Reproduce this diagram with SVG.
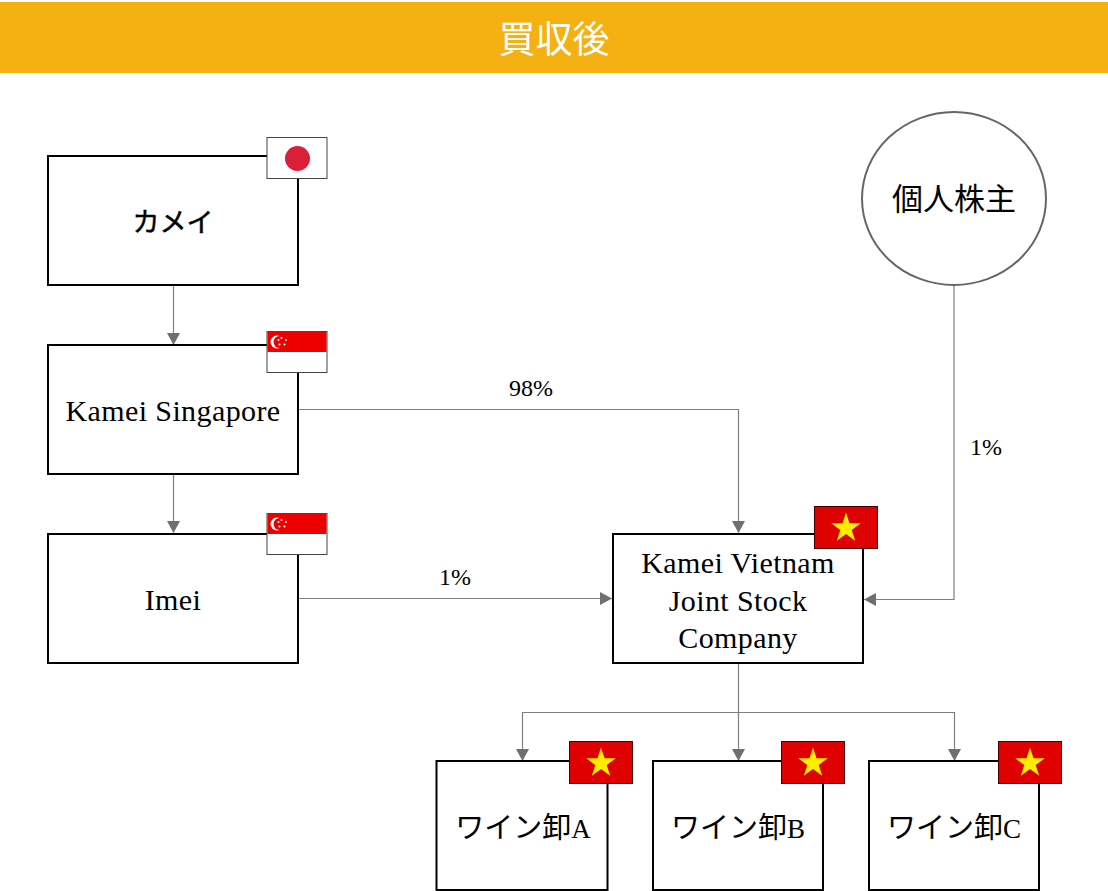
<svg xmlns="http://www.w3.org/2000/svg" xmlns:xlink="http://www.w3.org/1999/xlink" width="1108" height="891" viewBox="0 0 1108 891">
<style>
.b{fill:#fff;stroke:#000;stroke-width:2}
.c{fill:none;stroke:#7f7f7f;stroke-width:1.2}
.s{font-family:"Liberation Serif","Noto Sans CJK JP",serif;fill:#000;text-anchor:middle}
.j{font-family:"Noto Sans CJK JP","Liberation Serif",sans-serif;fill:#000;text-anchor:middle}
.t{font-size:30px;letter-spacing:.4px}
.p{font-size:24px}
.w{font-size:29px}
.w tspan{font-family:"Liberation Serif",serif;font-size:27px}
</style>
<defs>
<marker id="a" markerUnits="userSpaceOnUse" markerWidth="13" markerHeight="13" refX="12" refY="6.500" orient="auto"><path d="M0,0L12,6.500L0,13Z" fill="#6f6f6f"/></marker>
<g id="jp"><rect width="60" height="41" fill="#fff" stroke="#444"/><circle cx="30.500" cy="21" r="12.500" fill="#dc1f38"/></g>
<g id="sg"><rect width="60" height="41" fill="#fff" stroke="#444"/><rect x=".5" y=".5" width="59" height="20" fill="#ee0000"/><circle cx="10" cy="10.500" r="6.500" fill="#fff"/><circle cx="12.500" cy="10.500" r="6" fill="#ee0000"/><g fill="#fff"><circle cx="14.500" cy="6.500" r="1"/><circle cx="19" cy="8.500" r="1"/><circle cx="17.500" cy="13" r="1"/><circle cx="12.500" cy="13" r="1"/><circle cx="11.500" cy="8.500" r="1"/></g></g>
<g id="vn"><rect width="63" height="42" fill="#df0000" stroke="#400"/><polygon points="31.500,6 35,16.800 46.300,16.800 37.200,23.500 40.700,34.300 31.500,27.600 22.300,34.300 25.800,23.500 16.700,16.800 28,16.800" fill="#ffed00"/></g>
</defs>
<rect id="banner" x="0" y="2" width="1108" height="71" fill="#f4b111"/>
<text x="554" y="53" class="j" style="fill:#fff;font-size:37px">買収後</text>
<g id="connectors">
<path class="c" marker-end="url(#a)" d="M173.500,285V345"/>
<path class="c" marker-end="url(#a)" d="M173.500,474V533"/>
<path class="c" marker-end="url(#a)" d="M299,409.500H738.500V533"/>
<path class="c" marker-end="url(#a)" d="M299,598.500H612"/>
<path class="c" marker-end="url(#a)" d="M954,285V599.500H864"/>
<path class="c" marker-end="url(#a)" d="M738.500,663V761"/>
<path class="c" marker-end="url(#a)" d="M738.500,712.500H522.500V761"/>
<path class="c" marker-end="url(#a)" d="M738.500,712.500H954.500V761"/>
<text x="531" y="396" class="s p">98%</text>
<text x="986" y="455" class="s p">1%</text>
<text x="455" y="585" class="s p">1%</text>
</g>
<g id="n-kamei"><rect class="b" x="48" y="156" width="250" height="129"/><text x="173" y="232" class="j" style="font-size:27px;stroke:#000;stroke-width:.5">カメイ</text><use xlink:href="#jp" x="267" y="137.500"/></g>
<g id="n-singapore"><rect class="b" x="48" y="345" width="250" height="129"/><text x="173" y="421" class="s t">Kamei Singapore</text><use xlink:href="#sg" x="267" y="331.500"/></g>
<g id="n-imei"><rect class="b" x="48" y="534" width="250" height="129"/><text x="173" y="610" class="s t">Imei</text><use xlink:href="#sg" x="267" y="513.500"/></g>
<g id="n-vietnam"><rect class="b" x="613" y="534" width="250" height="129"/><text x="738" y="573" class="s t">Kamei Vietnam</text><text x="738" y="611" class="s t">Joint Stock</text><text x="738" y="648" class="s t">Company</text><use xlink:href="#vn" x="814.500" y="506.500"/></g>
<g id="n-shareholders"><ellipse cx="954" cy="198.500" rx="92" ry="86.500" fill="#fff" stroke="#666" stroke-width="2"/><text x="954" y="210" class="j" style="font-size:31px">個人株主</text></g>
<g id="n-a"><rect class="b" x="436.500" y="761" width="171" height="129"/><text x="523" y="838" class="j w">ワイン卸<tspan>A</tspan></text><use xlink:href="#vn" x="569.500" y="741.500"/></g>
<g id="n-b"><rect class="b" x="653" y="761" width="170" height="129"/><text x="738" y="838" class="j w">ワイン卸<tspan>B</tspan></text><use xlink:href="#vn" x="781.500" y="741.500"/></g>
<g id="n-c"><rect class="b" x="869" y="761" width="170" height="129"/><text x="954" y="838" class="j w">ワイン卸<tspan>C</tspan></text><use xlink:href="#vn" x="998.500" y="741.500"/></g>
</svg>
